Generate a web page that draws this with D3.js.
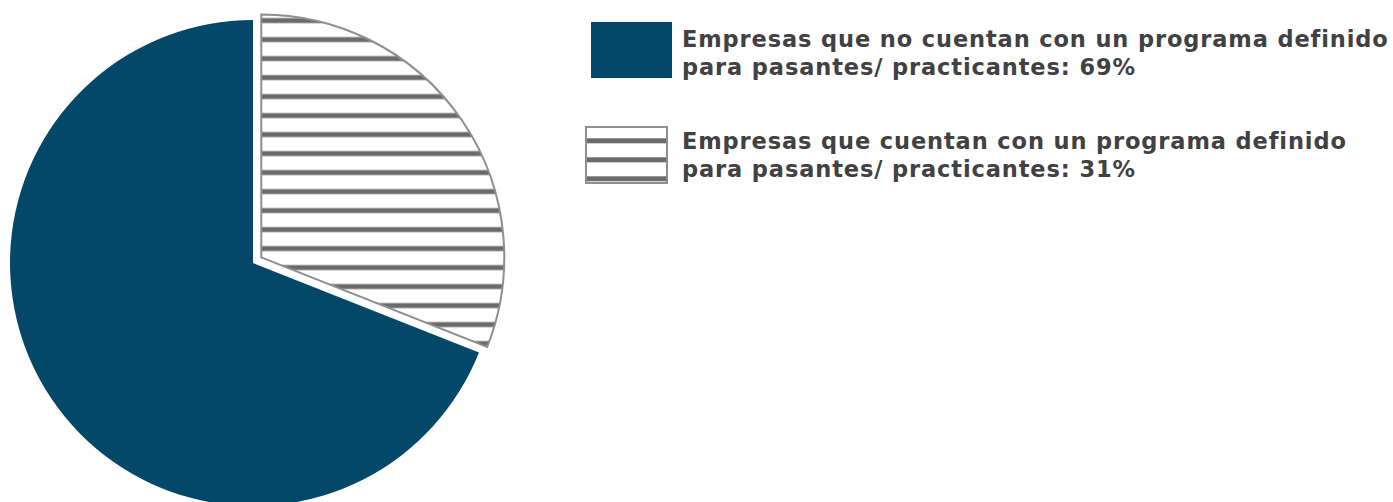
<!DOCTYPE html>
<html>
<head>
<meta charset="utf-8">
<script src="https://cdn.jsdelivr.net/npm/d3@7"></script>
<style>
  body { margin: 0; background: #fff; }
</style>
</head>
<body>
<div id="chart"></div>
<script>
// Data (legend order)
const categories = [
  ["Empresas que no cuentan con un programa definido", "para pasantes/ practicantes: 69%"],
  ["Empresas que cuentan con un programa definido", "para pasantes/ practicantes: 31%"]
];
const values = [69, 31];
const fills = ["#034769", "url(#stripes-pie)"];

const width = 1393;
const height = 502;
const cx = 253, cy = 263, radius = 243;
const explode = 10;

const svg = d3.select("#chart")
  .append("svg")
  .attr("width", width)
  .attr("height", height);

// Striped patterns (one for the pie, one for the legend swatch)
const defs = svg.append("defs");
function stripes(id, offset) {
  const p = defs.append("pattern")
    .attr("id", id)
    .attr("patternUnits", "userSpaceOnUse")
    .attr("width", 20)
    .attr("height", 19);
  p.append("rect").attr("width", 20).attr("height", 19).attr("fill", "#fff");
  p.append("rect").attr("y", offset).attr("width", 20).attr("height", 5).attr("fill", "#6b6b6b");
}
stripes("stripes-pie", 7.7);
stripes("stripes-legend", 5.3);

// Pie: striped slice starts at 12 o'clock going clockwise
const share = values[1] / d3.sum(values);
const pie = d3.pie()
  .sort(null)
  .startAngle(share * 2 * Math.PI)
  .endAngle(2 * Math.PI + share * 2 * Math.PI);

const arc = d3.arc().innerRadius(0).outerRadius(radius);

svg.append("g")
  .attr("transform", `translate(${cx},${cy})`)
  .selectAll("path")
  .data(pie(values))
  .enter()
  .append("path")
  .attr("transform", (d, i) => {
    if (i !== 1) return null;
    const mid = (d.startAngle + d.endAngle) / 2;
    return `translate(${Math.sin(mid) * explode},${-Math.cos(mid) * explode})`;
  })
  .attr("d", arc)
  .attr("fill", (d, i) => fills[i])
  .attr("stroke", (d, i) => i === 1 ? "#8e8e8e" : "none")
  .attr("stroke-width", 2);

// Legend
const legendX = 682;
const legendY = [47, 148.5];
const lineGap = 28;
const targetWidth = 705; // width of the longest line in the reference
const swatches = [
  { x: 591, y: 22, w: 81, h: 56, fill: "#034769", stroke: "none" },
  { x: 586, y: 127, w: 81, h: 56, fill: "url(#stripes-legend)", stroke: "#8e8e8e" }
];

const legend = svg.append("g").attr("class", "legend");
const texts = [];

categories.forEach((lines, i) => {
  const s = swatches[i];
  legend.append("rect")
    .attr("x", s.x)
    .attr("y", s.y)
    .attr("width", s.w)
    .attr("height", s.h)
    .attr("fill", s.fill)
    .attr("stroke", s.stroke)
    .attr("stroke-width", 2);

  const t = legend.append("text")
    .attr("x", legendX)
    .attr("y", legendY[i])
    .attr("font-family", "DejaVu Sans")
    .attr("font-weight", 700)
    .attr("font-size", 22.5)
    .attr("fill", "#414042");
  lines.forEach((line, j) => {
    t.append("tspan")
      .attr("x", legendX)
      .attr("dy", j === 0 ? 0 : lineGap)
      .text(line);
  });
  texts.push(t);
});

// fit letter spacing so the longest line matches the reference width
const first = texts[0].select("tspan").node();
const natural = first.getComputedTextLength();
const n = categories[0][0].length;
const spacing = (targetWidth - natural) / (n - 1);
texts.forEach(t => t.attr("letter-spacing", spacing));
</script>
</body>
</html>
